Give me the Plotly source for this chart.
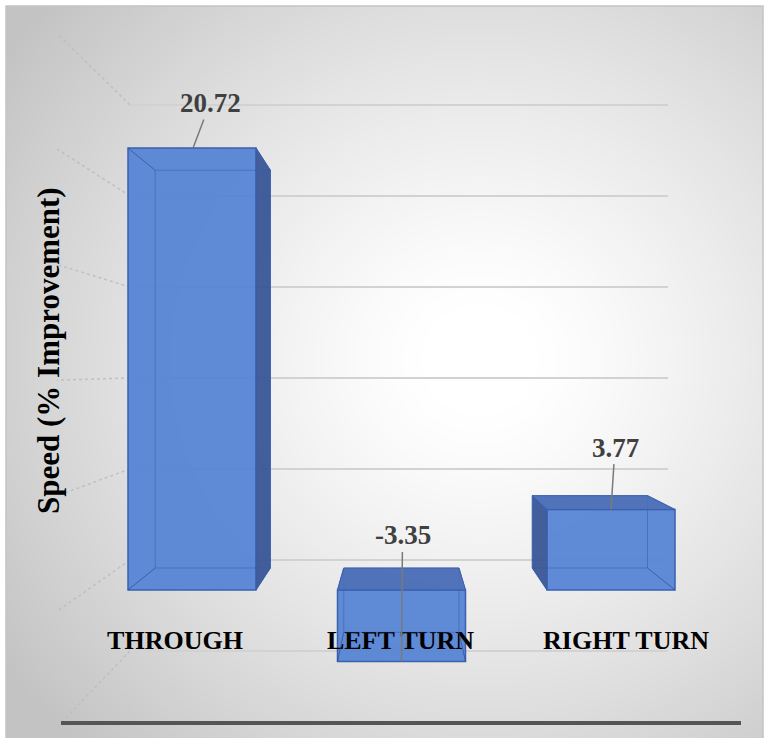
import base64
import struct
import zlib

import numpy as np
import plotly.graph_objects as go

# ---------------- data ----------------
categories = ["THROUGH", "LEFT TURN", "RIGHT TURN"]
values = [20.72, -3.35, 3.77]
value_labels = ["20.72", "-3.35", "3.77"]
grid_values = [-5, 0, 5, 10, 15, 20, 25]
y_title = "Speed (% Improvement)"

# ---------------- layout geometry (pixels of the 765x738 page) ----------------
W, H = 765, 738
BAR_X0, BAR_DX = 192.0, 209.5      # pixel of bar index 0, spacing
BAR_Y0, BAR_DY = 590.0, 21.33      # pixel of value 0, pixels per unit (front faces)
BAR_W = 0.611                      # bar width in index units
WALL_Y0, WALL_DY = 560.0, 18.2     # back wall: pixel of 0, pixels per unit
WALL_X = (130.0, 668.0)
WALL_TOP, WALL_BOT = 60.0, 700.0
LAB_X0, LAB_DX = 175.0, 225.5      # category label positions
VP = (400.0, 370.0)                # vanishing point for the 3D look
DEPTH = 0.10
SIDEWALL = 1.27

FONT = "Liberation Serif, Times New Roman, serif"
FRONT = "rgba(84,130,212,0.93)"
EDGE = "rgb(58,96,178)"
SIDE = "rgba(56,86,150,0.95)"
TOP = "rgba(72,108,182,0.95)"
INNER = "rgba(40,70,140,0.35)"


def px2x(p):
    return (p - BAR_X0) / BAR_DX


def px2y(p):
    return (BAR_Y0 - p) / BAR_DY


def x2px(x):
    return BAR_X0 + x * BAR_DX


def y2px(v):
    return BAR_Y0 - v * BAR_DY


# ---------------- background radial gradient as PNG ----------------
def png_gray(arr):
    h, w = arr.shape
    raw = np.hstack([np.zeros((h, 1), np.uint8), arr]).tobytes()

    def chunk(t, d):
        c = struct.pack(">I", len(d)) + t + d
        return c + struct.pack(">I", zlib.crc32(t + d) & 0xFFFFFFFF)

    return (b"\x89PNG\r\n\x1a\n"
            + chunk(b"IHDR", struct.pack(">IIBBBBB", w, h, 8, 0, 0, 0, 0))
            + chunk(b"IDAT", zlib.compress(raw, 9))
            + chunk(b"IEND", b""))


bx0, by0, bx1, by1 = 6.0, 6.0, 763.0, 738.0
gw, gh = 380, 366
gx = bx0 + (np.arange(gw) + 0.5) * (bx1 - bx0) / gw
gy = by0 + (np.arange(gh) + 0.5) * (by1 - by0) / gh
XX, YY = np.meshgrid(gx, gy)
d = np.sqrt(((XX - 480) / 1.0) ** 2 + ((YY - 360) / 0.95) ** 2)
t = np.clip((d - 60) / 520, 0, 1)
gray = (255 - 60 * t ** 1.2).astype(np.uint8)
bg_uri = "data:image/png;base64," + base64.b64encode(png_gray(gray)).decode()

# ---------------- figure ----------------
idx = list(range(len(categories)))
fig = go.Figure()

# back wall subplot (gridlines)
fig.add_trace(go.Scatter(x=[0.5], y=[0], xaxis="x", yaxis="y", mode="markers",
                         marker=dict(opacity=0), hoverinfo="skip", showlegend=False))

# front faces of bars
fig.add_trace(go.Bar(x=idx, y=values, width=BAR_W, xaxis="x2", yaxis="y2",
                     marker=dict(color=FRONT, line=dict(color=EDGE, width=1.5)),
                     hoverinfo="skip", showlegend=False))

# category labels axis
fig.add_trace(go.Scatter(x=idx, y=[0] * len(idx), xaxis="x3", yaxis="y2", mode="markers",
                         marker=dict(opacity=0), hoverinfo="skip", showlegend=False))

shapes = []


def path(points):
    s = "M " + " L ".join(f"{px2x(a):.4f},{px2y(b):.4f}" for a, b in points)
    return s + " Z"


def back(p):
    return (p[0] + DEPTH * (VP[0] - p[0]), p[1] + DEPTH * (VP[1] - p[1]))


for i, v in zip(idx, values):
    xl = x2px(i - BAR_W / 2)
    xr = x2px(i + BAR_W / 2)
    yt = y2px(max(v, 0))
    yb = y2px(min(v, 0))
    F = {"tl": (xl, yt), "tr": (xr, yt), "bl": (xl, yb), "br": (xr, yb)}
    B = {k: back(p) for k, p in F.items()}
    # hidden edges seen through the transparent front
    shapes.append(dict(type="path", xref="x2", yref="y2", layer="above",
                       path=path([B["tl"], B["tr"], B["br"], B["bl"]]),
                       line=dict(color=INNER, width=1), fillcolor="rgba(0,0,0,0)"))
    for k in F:
        shapes.append(dict(type="path", xref="x2", yref="y2", layer="above",
                           path=path([F[k], B[k]]), line=dict(color=INNER, width=1)))
    faces = []
    if xr < VP[0] - 20:
        faces.append(([F["tr"], B["tr"], B["br"], F["br"]], SIDE))
    if xl > VP[0] + 20:
        faces.append(([F["tl"], B["tl"], B["bl"], F["bl"]], SIDE))
    if yt > VP[1]:
        faces.append(([F["tl"], F["tr"], B["tr"], B["tl"]], TOP))
    for pts, col in faces:
        shapes.append(dict(type="path", xref="x2", yref="y2", layer="above",
                           path=path(pts), fillcolor=col,
                           line=dict(color=EDGE, width=1)))

# side wall lines (left) from the gridlines toward the viewer
for g in grid_values:
    py = WALL_Y0 - g * WALL_DY
    qx = VP[0] + SIDEWALL * (WALL_X[0] - VP[0])
    qy = VP[1] + SIDEWALL * (py - VP[1])
    shapes.append(dict(type="line", xref="paper", yref="paper", layer="below",
                       x0=WALL_X[0] / W, y0=1 - py / H, x1=qx / W, y1=1 - qy / H,
                       line=dict(color="rgba(190,190,190,0.9)", width=1.5, dash="dot")))

# floor edge line and frame
shapes.append(dict(type="line", xref="paper", yref="paper", layer="above",
                   x0=61 / W, x1=741 / W, y0=1 - 723 / H, y1=1 - 723 / H,
                   line=dict(color="#555555", width=4)))
shapes.append(dict(type="rect", xref="paper", yref="paper", layer="below",
                   x0=bx0 / W, x1=bx1 / W, y0=1 - by0 / H, y1=-0.01,
                   line=dict(color="#c4c4c4", width=1.5)))

# value labels with leader lines
label_offsets = [(17, -45, 0.005), (1, -126, 0.0), (4, -62, 0.0)]
annotations = []
for i, v, txt, (ax, ay, dxi) in zip(idx, values, value_labels, label_offsets):
    annotations.append(dict(x=i + dxi, y=v, xref="x2", yref="y2", text=f"<b>{txt}</b>",
                            showarrow=True, arrowhead=0, arrowwidth=1.5,
                            arrowcolor="#7a7a7a", ax=ax, ay=ay, standoff=0,
                            font=dict(family=FONT, size=27, color="#404040")))
annotations.append(dict(x=48 / W, y=1 - 351 / H, xref="paper", yref="paper",
                        xanchor="center", yanchor="middle",
                        text=f"<b>{y_title}</b>", textangle=-90, showarrow=False,
                        font=dict(family=FONT, size=31, color="black")))

wall_y_range = [(WALL_Y0 - WALL_BOT) / WALL_DY, (WALL_Y0 - WALL_TOP) / WALL_DY]

fig.update_layout(
    width=W, height=H,
    margin=dict(l=0, r=0, t=0, b=0),
    paper_bgcolor="white",
    plot_bgcolor="rgba(0,0,0,0)",
    showlegend=False,
    images=[dict(source=bg_uri, xref="paper", yref="paper", x=bx0 / W, y=1 - by0 / H,
                 sizex=(bx1 - bx0) / W, sizey=(by1 - by0) / H, xanchor="left",
                 yanchor="top", sizing="stretch", layer="below")],
    xaxis=dict(domain=[WALL_X[0] / W, WALL_X[1] / W], range=[0, 1], visible=False),
    yaxis=dict(domain=[1 - WALL_BOT / H, 1 - WALL_TOP / H], range=wall_y_range,
               tick0=0, dtick=5, showgrid=True, gridcolor="#d2d2d2", gridwidth=2,
               zeroline=False, showline=False, showticklabels=False, ticks=""),
    xaxis2=dict(domain=[0, 1], range=[px2x(0), px2x(W)], anchor="y2", visible=False),
    yaxis2=dict(domain=[0, 1], range=[px2y(H), px2y(0)], anchor="x2", visible=False),
    xaxis3=dict(overlaying="x2", anchor="free", position=1 - 622 / H, side="bottom",
                range=[(0 - LAB_X0) / LAB_DX, (W - LAB_X0) / LAB_DX],
                tickvals=idx, ticktext=[f"<b>{c}</b>" for c in categories],
                showgrid=False, zeroline=False, showline=False, ticks="",
                tickfont=dict(family=FONT, size=26, color="black")),
    shapes=shapes,
    annotations=annotations,
)

fig.write_html("out.html")
